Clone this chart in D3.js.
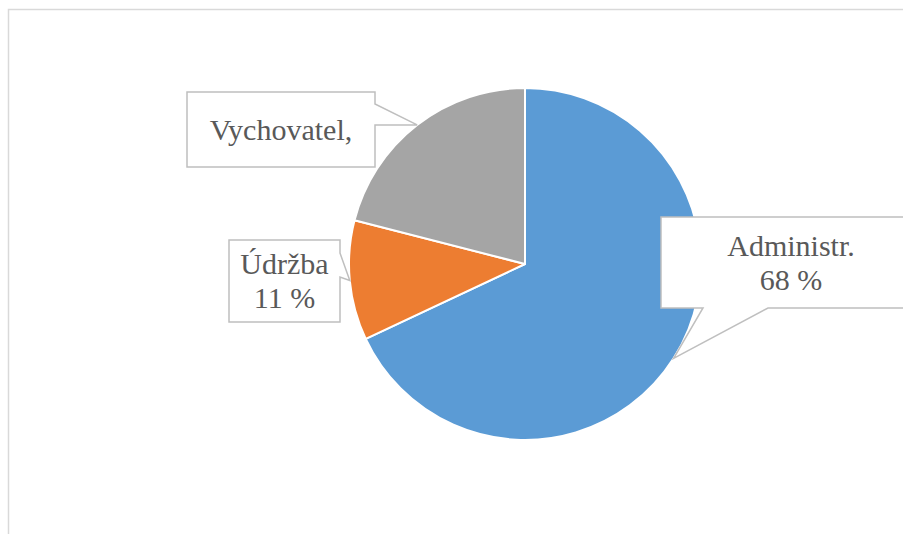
<!DOCTYPE html>
<html>
<head>
<meta charset="utf-8">
<script src="https://cdn.jsdelivr.net/npm/d3@7"></script>
<style>
  html, body { margin: 0; padding: 0; background: #fff; }
</style>
</head>
<body>
<svg id="chart" width="903" height="534"></svg>
<script>
const categories = ["Administr.", "Údržba", "Vychovatel"];
const values = [68, 11, 21];
const labelLines = [["Administr.", "68 %"], ["Údržba", "11 %"], ["Vychovatel,"]];
const colors = ["#5B9BD5", "#ED7D31", "#A5A5A5"];

// callout layout (box geometry and pointer side)
const callouts = [
  { x0: 661, y0: 217, x1: 921, y1: 308, side: "bottom", p1: 703, p2: 768 },
  { x0: 229, y0: 240, x1: 340, y1: 322, side: "right", p1: 253, p2: 277 },
  { x0: 187, y0: 92, x1: 375, y1: 167, side: "right", p1: 104, p2: 125 }
];

const W = 903, H = 534;
const cx = 525, cy = 264, R = 176;
const svg = d3.select("#chart");

svg.append("rect")
  .attr("x", 8.5).attr("y", 9.5)
  .attr("width", W + 20).attr("height", H + 20)
  .attr("fill", "#fff")
  .attr("stroke", "#d9d9d9").attr("stroke-width", 1.5);

const pie = d3.pie().sort(null).value(d => d)(values);
const arc = d3.arc().innerRadius(0).outerRadius(R);

const g = svg.append("g").attr("transform", `translate(${cx},${cy})`);
g.selectAll("path.slice").data(pie).join("path")
  .attr("class", "slice")
  .attr("d", arc)
  .attr("fill", (d, i) => colors[i])
  .attr("stroke", "#fff")
  .attr("stroke-width", 2)
  .attr("stroke-linejoin", "round");

pie.forEach((d, i) => {
  const c = callouts[i];
  const mid = (d.startAngle + d.endAngle) / 2;
  const tx = cx + R * Math.sin(mid);
  const ty = cy - R * Math.cos(mid);
  let p;
  if (c.side === "right") {
    p = `M${c.x0},${c.y0}H${c.x1}V${c.p1}L${tx},${ty}L${c.x1},${c.p2}V${c.y1}H${c.x0}Z`;
  } else {
    p = `M${c.x0},${c.y0}H${c.x1}V${c.y1}H${c.p2}L${tx},${ty}L${c.p1},${c.y1}H${c.x0}Z`;
  }
  svg.append("path")
    .attr("d", p)
    .attr("fill", "#fff")
    .attr("stroke", "#bfbfbf")
    .attr("stroke-width", 1.5)
    .attr("stroke-linejoin", "miter");

  const lines = labelLines[i];
  const lh = 34;
  const fs = 30;
  const centerX = i === 0 ? 791 : (c.x0 + c.x1) / 2;
  const centerY = (c.y0 + c.y1) / 2;
  const firstBaseline = centerY - (lines.length - 1) * lh / 2 + 10;
  lines.forEach((ln, k) => {
    svg.append("text")
      .attr("x", centerX)
      .attr("y", firstBaseline + k * lh)
      .attr("font-family", "Liberation Serif")
      .attr("font-size", fs)
      .attr("fill", "#595959")
      .attr("text-anchor", "middle")
      .text(ln);
  });
});
</script>
</body>
</html>
